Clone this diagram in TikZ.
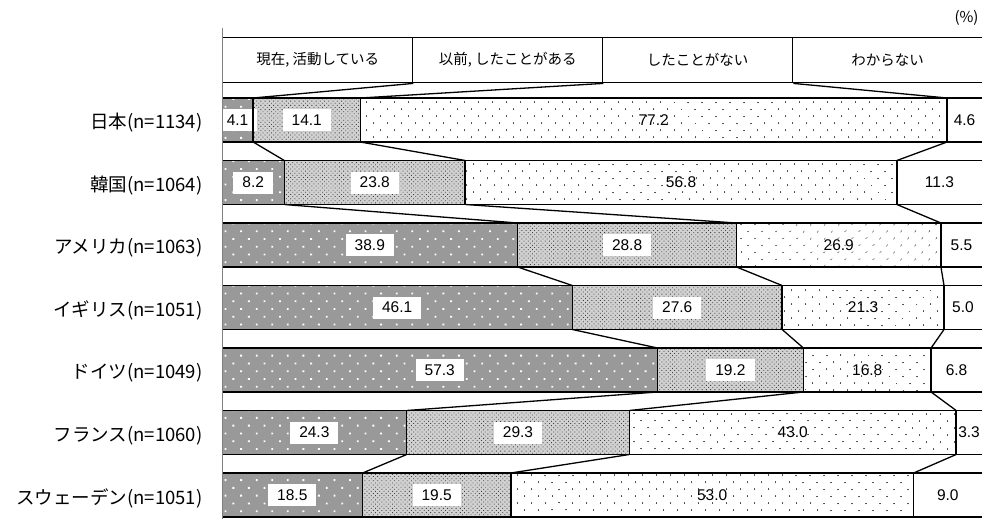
\documentclass[tikz,border=0pt]{standalone}
\usepackage{fontspec}
\setmainfont{Liberation Sans}
\newfontfamily\jpfont{Noto Sans CJK JP}
\usetikzlibrary{patterns.meta, calc}
\definecolor{nowgray}{gray}{0.6}
\definecolor{pastgray}{gray}{0.82}
\definecolor{dotblack}{gray}{0.15}

\begin{document}
\begin{tikzpicture}[x=1pt, y=-1pt,
  seg1/.style={fill=nowgray, postaction={pattern={Dots[radius=1.3pt, distance=11pt, angle=45]}, pattern color=white}},
  seg2/.style={fill=pastgray, postaction={pattern={Dots[radius=0.6pt, distance=3pt, angle=45]}, pattern color=black!75}},
  seg3/.style={fill=white, postaction={pattern={Dots[radius=0.8pt, distance=10.5pt, angle=45]}, pattern color=dotblack}},
  valbox/.style={fill=white, inner xsep=9pt, inner ysep=4pt, minimum height=22pt, font=\fontsize{15.5}{16}\selectfont},
  valtext/.style={inner sep=1pt, font=\fontsize{15.5}{16}\selectfont},
  legbox/.style={draw, line width=1.4pt, fill=white, minimum width=190pt, minimum height=45pt, anchor=north west, font=\jpfont\fontsize{14.5}{15}\selectfont},
  country/.style={anchor=east, font=\jpfont\fontsize{18.5}{19}\selectfont},
  edge/.style={line width=1.6pt},
  link/.style={line width=1.3pt}
]
  \useasboundingbox (0,0) rectangle (982,519);

  % Unit
  \node[anchor=east, font=\jpfont\fontsize{15}{15}\selectfont] (unit) at (982,18) {(\%)};

  % Legend header
  \node[legbox] (h1) at (222,37) {現在, 活動している};
  \node[legbox] (h2) at (412,37) {以前, したことがある};
  \node[legbox] (h3) at (602,37) {したことがない};
  \node[legbox] (h4) at (792,37) {わからない};

  % Bars
  \foreach \name/\va/\vb/\vc/\vd [count=\i] in {
      日本(n=1134)/4.1/14.1/77.2/4.6,
      韓国(n=1064)/8.2/23.8/56.8/11.3,
      アメリカ(n=1063)/38.9/28.8/26.9/5.5,
      イギリス(n=1051)/46.1/27.6/21.3/5.0,
      ドイツ(n=1049)/57.3/19.2/16.8/6.8,
      フランス(n=1060)/24.3/29.3/43.0/3.3,
      スウェーデン(n=1051)/18.5/19.5/53.0/9.0}{
    \pgfmathsetmacro\yt{98+62.5*(\i-1)}
    \pgfmathsetmacro\yb{\yt+44}
    \pgfmathsetmacro\ym{\yt+22}
    \pgfmathsetmacro\xa{222+7.6*\va}
    \pgfmathsetmacro\xb{\xa+7.6*\vb}
    \pgfmathsetmacro\xc{\xb+7.6*\vc}
    \path[seg1] (222,\yt) rectangle (\xa,\yb);
    \path[seg2] (\xa,\yt) rectangle (\xb,\yb);
    \path[seg3] (\xb,\yt) rectangle (\xc,\yb);
    \node[valbox] at ({(222+\xa)/2},\ym) {\va};
    \node[valbox] at ({(\xa+\xb)/2},\ym) {\vb};
    \node[valtext] at ({(\xb+\xc)/2},\ym) {\vc};
    \node[valtext] at ({(\xc+982)/2},\ym) {\vd};
    \draw[edge] (222,\yt) -- (982,\yt) (222,\yb) -- (982,\yb);
    \foreach \k/\x in {1/\xa, 2/\xb, 3/\xc}
      \draw[edge] (\x,\yt) coordinate (t\i-\k) -- (\x,\yb) coordinate (b\i-\k);
    \node[country] (c\i) at (206,\ym+3) {\name};
  }

  % Axis
  \draw[black!50, line width=0.7pt] (222,28) -- (222,519);

  % Connectors
  \draw[link] (h1.south east) -- (t1-1);
  \draw[link] (h2.south east) -- (t1-2);
  \draw[link] (h3.south east) -- (t1-3);
  \foreach \i [evaluate=\i as \j using int(\i+1)] in {1,...,6}
    \foreach \k in {1,2,3}
      \draw[link] (b\i-\k) -- (t\j-\k);
\end{tikzpicture}
\end{document}
